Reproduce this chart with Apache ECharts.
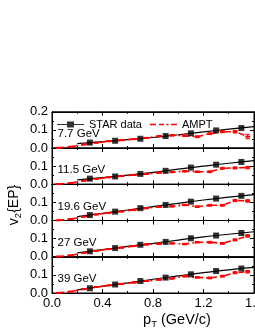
<!DOCTYPE html>
<html><head><meta charset="utf-8">
<script src="https://cdn.jsdelivr.net/npm/echarts@6/dist/echarts.min.js"></script>
<style>html,body{margin:0;padding:0;background:#fff}#c{width:255px;height:330px}</style>
</head><body><div id="c"></div>
<script>
// ---- data ----
const energies = ['7.7 GeV', '11.5 GeV', '19.6 GeV', '27 GeV', '39 GeV'];
const xTickLabels = ['0.0', '0.4', '0.8', '1.2', '1.6'];

const starPt = [0.3, 0.5, 0.7, 0.9, 1.1, 1.3, 1.5];
const star77 = [0.030, 0.040, 0.051, 0.066, 0.081, 0.097, 0.110];
const star115 = [0.031, 0.043, 0.057, 0.074, 0.092, 0.108, 0.123];
const star196 = [0.030, 0.049, 0.068, 0.086, 0.104, 0.121, 0.136];
const star27 = [0.030, 0.048, 0.066, 0.082, 0.102, 0.117, 0.131];
const star39 = [0.026, 0.047, 0.066, 0.085, 0.103, 0.121, 0.135];

const fitPt = [0.2, 0.4, 0.6, 0.8, 1.0, 1.2, 1.4, 1.6];
const fit77 = [0.024, 0.035, 0.046, 0.058, 0.073, 0.089, 0.104, 0.118];
const fit115 = [0.024, 0.037, 0.050, 0.065, 0.083, 0.100, 0.116, 0.130];
const fit196 = [0.021, 0.040, 0.058, 0.077, 0.095, 0.113, 0.129, 0.143];
const fit27 = [0.021, 0.039, 0.057, 0.074, 0.092, 0.110, 0.124, 0.138];
const fit39 = [0.017, 0.037, 0.056, 0.076, 0.094, 0.112, 0.128, 0.141];

const amptPt = [0.05, 0.15, 0.25, 0.35, 0.45, 0.55, 0.65, 0.75, 0.85, 0.95, 1.05, 1.15, 1.25, 1.35, 1.45, 1.55];
const ampt77 = [0.001, 0.007, 0.019, 0.029, 0.037, 0.043, 0.049, 0.056, 0.066, 0.070, 0.068, 0.062, 0.079, 0.090, 0.090, 0.063];
const ampt115 = [0.001, 0.007, 0.019, 0.030, 0.038, 0.045, 0.051, 0.057, 0.064, 0.067, 0.072, 0.069, 0.069, 0.088, 0.090, 0.092];
const ampt196 = [0.001, 0.008, 0.021, 0.033, 0.042, 0.050, 0.059, 0.068, 0.076, 0.078, 0.086, 0.076, 0.084, 0.084, 0.110, 0.108];
const ampt27 = [0.001, 0.008, 0.021, 0.033, 0.042, 0.050, 0.059, 0.068, 0.072, 0.074, 0.070, 0.080, 0.080, 0.074, 0.093, 0.115];
const ampt39 = [0.001, 0.008, 0.021, 0.033, 0.042, 0.050, 0.058, 0.066, 0.074, 0.080, 0.093, 0.086, 0.083, 0.093, 0.112, 0.117];
const amptErr77 = [0.001, 0.001, 0.001, 0.001, 0.001, 0.002, 0.002, 0.002, 0.003, 0.003, 0.004, 0.005, 0.005, 0.006, 0.007, 0.012];
const amptErr = [0.001, 0.001, 0.001, 0.001, 0.001, 0.002, 0.002, 0.002, 0.003, 0.003, 0.004, 0.004, 0.005, 0.005, 0.006, 0.007];

const panels = [
  { label: energies[0], star: star77, fit: fit77, ampt: ampt77, err: amptErr77 },
  { label: energies[1], star: star115, fit: fit115, ampt: ampt115, err: amptErr },
  { label: energies[2], star: star196, fit: fit196, ampt: ampt196, err: amptErr },
  { label: energies[3], star: star27, fit: fit27, ampt: ampt27, err: amptErr },
  { label: energies[4], star: star39, fit: fit39, ampt: ampt39, err: amptErr }
];

// ---- layout ----
const FONT = 'Arial, "Liberation Sans", sans-serif';
const L = 52, W = 202, T0 = 111.75, H = 36.25;
const zip = (xs, ys) => xs.map((x, i) => [x, ys[i]]);

const grid = [], xAxis = [], yAxis = [], series = [], graphic = [];
panels.forEach((p, i) => {
  grid.push({ left: L, width: W, top: T0 + H * i, height: H, show: true, borderColor: '#000', borderWidth: 1,
    containLabel: false, outerBoundsMode: 'none' });
  const isLast = i === panels.length - 1;
  const xBase = {
    gridIndex: i, type: 'value', min: 0, max: 1.6, interval: 0.4,
    axisLine: { show: true, onZero: false, lineStyle: { color: '#000', width: 1 } },
    axisTick: { show: true, inside: true, length: 4, lineStyle: { color: '#000' } },
    minorTick: { show: true, splitNumber: 2, length: 2, lineStyle: { color: '#000' } },
    splitLine: { show: false }, minorSplitLine: { show: false }
  };
  xAxis.push(Object.assign({}, xBase, { position: 'bottom',
    axisLabel: { show: isLast, color: '#000', fontSize: 13, fontFamily: FONT, margin: 4,
      formatter: v => xTickLabels[Math.round(v / 0.4)] } }));
  xAxis.push(Object.assign({}, xBase, { position: 'top', axisLabel: { show: false } }));
  const yBase = {
    gridIndex: i, type: 'value', min: 0, max: 0.2, interval: 0.1,
    axisLine: { show: true, onZero: false, lineStyle: { color: '#000', width: 1 } },
    axisTick: { show: true, inside: true, length: 4, lineStyle: { color: '#000' } },
    minorTick: { show: true, splitNumber: 2, length: 2, lineStyle: { color: '#000' } },
    splitLine: { show: false }, minorSplitLine: { show: false }
  };
  yAxis.push(Object.assign({}, yBase, { position: 'left',
    axisLabel: { show: true, color: '#000', fontSize: 13, fontFamily: FONT, margin: 4,
      showMaxLabel: i === 0, showMinLabel: true, formatter: v => v.toFixed(1) } }));
  yAxis.push(Object.assign({}, yBase, { position: 'right', axisLabel: { show: false } }));

  const xi = 2 * i, yi = 2 * i;
  series.push({ type: 'line', name: 'fit', xAxisIndex: xi, yAxisIndex: yi, data: zip(fitPt, p.fit),
    smooth: true, showSymbol: false, symbol: 'none', silent: true, z: 2,
    lineStyle: { color: '#000', width: 1.2 }, itemStyle: { color: '#000' } });
  series.push({ type: 'line', name: 'AMPT', xAxisIndex: xi, yAxisIndex: yi, data: zip(amptPt, p.ampt),
    symbol: 'none', silent: true, z: 3,
    lineStyle: { color: '#ff0000', width: 1.6, type: [6, 3, 2, 3] }, itemStyle: { color: '#ff0000' } });
  series.push({ type: 'custom', name: 'AMPT err', xAxisIndex: xi, yAxisIndex: yi, silent: true, z: 4,
    data: amptPt.map((x, k) => [x, p.ampt[k], p.err[k]]),
    encode: { x: 0, y: 1 },
    renderItem: (params, api) => {
      const x = api.value(0), y = api.value(1), e = api.value(2);
      const t = api.coord([x, y + e]), b = api.coord([x, y - e]), c = api.coord([x, y]);
      const hw = 2.2, st = { stroke: '#ff0000', lineWidth: 1 };
      return { type: 'group', children: [
        { type: 'line', shape: { x1: t[0], y1: t[1], x2: b[0], y2: b[1] }, style: st },
        { type: 'line', shape: { x1: t[0] - hw, y1: t[1], x2: t[0] + hw, y2: t[1] }, style: st },
        { type: 'line', shape: { x1: b[0] - hw, y1: b[1], x2: b[0] + hw, y2: b[1] }, style: st },
        { type: 'line', shape: { x1: c[0] - 2.5, y1: c[1], x2: c[0] + 2.5, y2: c[1] }, style: { stroke: '#ff0000', lineWidth: 2 } }
      ] };
    } });
  series.push({ type: 'scatter', name: 'STAR data', xAxisIndex: xi, yAxisIndex: yi, data: zip(starPt, p.star),
    symbol: 'rect', symbolSize: 6, silent: true, z: 5, itemStyle: { color: '#000' } });

  graphic.push({ type: 'text', x: 57.5, y: T0 + H * (i + 1) - 14, silent: true,
    style: { text: p.label, font: '11.5px ' + FONT, fill: '#000', verticalAlign: 'middle', align: 'left' } });
});

graphic.push({ type: 'text', x: 177, y: 320, silent: true,
  style: { text: 'p{s|T} (GeV/c)', font: '14.5px ' + FONT, fill: '#000', align: 'center', verticalAlign: 'middle',
    rich: { s: { fontSize: 9.5, fontFamily: FONT, fill: '#000', padding: [9, 0, 0, 0] } } } });
graphic.push({ type: 'text', x: 14, y: 205, rotation: Math.PI / 2, silent: true,
  style: { text: 'v{s|2}{EP}', font: '14px ' + FONT, fill: '#000', align: 'center', verticalAlign: 'middle',
    rich: { s: { fontSize: 9.5, fontFamily: FONT, fill: '#000', padding: [9, 0, 0, 0] } } } });

const chart = echarts.init(document.getElementById('c'), null, { renderer: 'canvas' });
chart.setOption({
  animation: false,
  backgroundColor: '#fff',
  grid, xAxis, yAxis, series, graphic,
  legend: {
    left: 52, top: 114, itemWidth: 27, itemHeight: 9, itemGap: 8, selectedMode: false,
    textStyle: { color: '#000', fontSize: 11, fontFamily: FONT, padding: [0, 0, 0, 0] },
    data: [
      { name: 'STAR data', icon: 'path://M0,4 H10 V5 H0 Z M10,1.5 H17 V7.5 H10 Z M17,4 H27 V5 H17 Z' },
      { name: 'AMPT', icon: 'path://M0,3.8 H6 V5.3 H0 Z M9,3.8 H14 V5.3 H9 Z M16.5,3.8 H18.5 V5.3 H16.5 Z M21,3.8 H27 V5.3 H21 Z' }
    ]
  }
});
</script></body></html>
